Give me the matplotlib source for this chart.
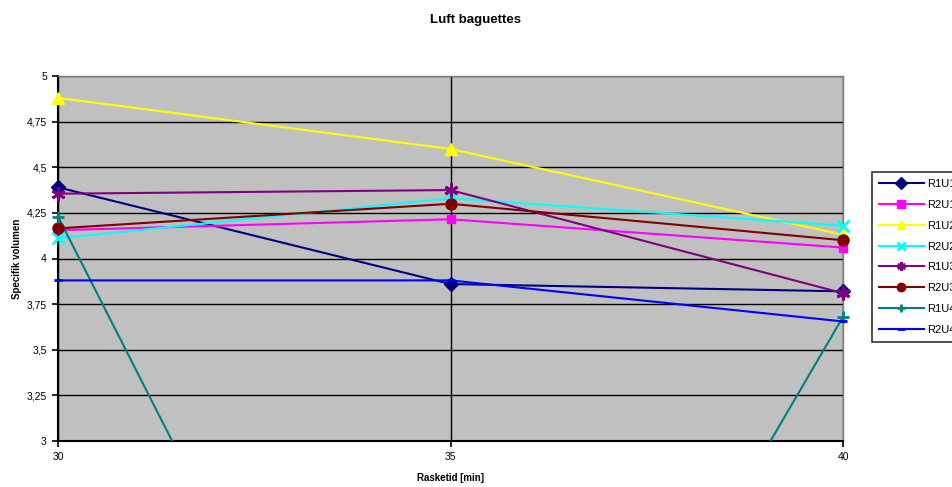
import matplotlib
matplotlib.use("Agg")
import numpy as np
import matplotlib.pyplot as plt
from matplotlib.lines import Line2D
from matplotlib.ticker import FuncFormatter, MultipleLocator

plt.rcParams["font.family"] = ["Liberation Sans", "DejaVu Sans"]

# Rasketid [min]
rasketid = [30, 35, 40]

# Specifik volumen per serie
r1u1 = [4.39, 3.86, 3.82]
r2u1 = [4.155, 4.215, 4.06]
r1u2 = [4.88, 4.60, 4.13]
r2u2 = [4.11, 4.33, 4.18]
r1u3 = [4.355, 4.375, 3.81]
r2u3 = [4.165, 4.30, 4.10]
r1u4 = [4.23, 0.0, 3.68]
r2u4 = [3.88, 3.88, 3.655]

labels = ["R1U1", "R2U1", "R1U2", "R2U2", "R1U3", "R2U3", "R1U4", "R2U4"]
series = [r1u1, r2u1, r1u2, r2u2, r1u3, r2u3, r1u4, r2u4]
colors = ["#000080", "#FF00FF", "#FFFF00", "#00FFFF",
          "#800080", "#800000", "#008080", "#0000FF"]
markers = ["D", "s", "^", "x", (6, 2, 0), "o", "+", "_"]
msizes = [7, 6, 9, 8, 10, 8, 9, 6]

fig = plt.figure(figsize=(9.52, 4.87), dpi=100)
ax = fig.add_axes([58 / 952, 1 - 441 / 487, (843 - 58) / 952, (441 - 76) / 487])
ax.set_facecolor("#C0C0C0")
ax.set_xlim(30, 40)
ax.set_ylim(3, 5)

handles = []
for vals, lab, col, mk, ms in zip(series, labels, colors, markers, msizes):
    thin = mk in ("D", "s", "^", "o")
    mew = 1 if thin else 2
    # line is clipped to the plot area, markers may overhang the edges
    ax.plot(rasketid, vals, color=col, lw=1.5, zorder=3)
    v = np.array(vals, dtype=float)
    v[(v < 3) | (v > 5)] = np.nan
    ax.plot(rasketid, v, ls="none", marker=mk, markersize=ms, color=col,
            markeredgewidth=mew, clip_on=False, zorder=4)
    handles.append(Line2D([], [], color=col, lw=1.5, marker=mk, markersize=6,
                          markeredgewidth=mew, label=lab))

ax.xaxis.set_major_locator(MultipleLocator(5))
ax.yaxis.set_major_locator(MultipleLocator(0.25))
ax.yaxis.set_major_formatter(FuncFormatter(lambda v, p: f"{v:g}".replace(".", ",")))
ax.grid(True, color="black", lw=1)
ax.set_axisbelow(True)

for s in ("left", "bottom"):
    ax.spines[s].set_color("black")
    ax.spines[s].set_linewidth(1.5)
for s in ("top", "right"):
    ax.spines[s].set_color("#808080")
    ax.spines[s].set_linewidth(1)
ax.tick_params(direction="out", length=4, width=1.2, labelsize=7.5, pad=4)

ax.set_xlabel("Rasketid [min]", fontsize=7, fontweight="bold", labelpad=8)
ax.set_ylabel("Specifik volumen", fontsize=7, fontweight="bold", labelpad=3)
fig.text(0.5, 1 - 20 / 487, "Luft baguettes", ha="center", va="center",
         fontsize=9.5, fontweight="bold")

leg = fig.legend(handles=handles, loc="upper left",
                 bbox_to_anchor=(872 / 952, 1 - 172 / 487),
                 fontsize=8, frameon=True, fancybox=False, handlelength=4.0,
                 labelspacing=0.97, borderpad=0.65, handletextpad=0.3,
                 borderaxespad=0)
leg.get_frame().set_edgecolor("black")
leg.get_frame().set_linewidth(1.2)

fig.savefig("out.png", dpi=100)
